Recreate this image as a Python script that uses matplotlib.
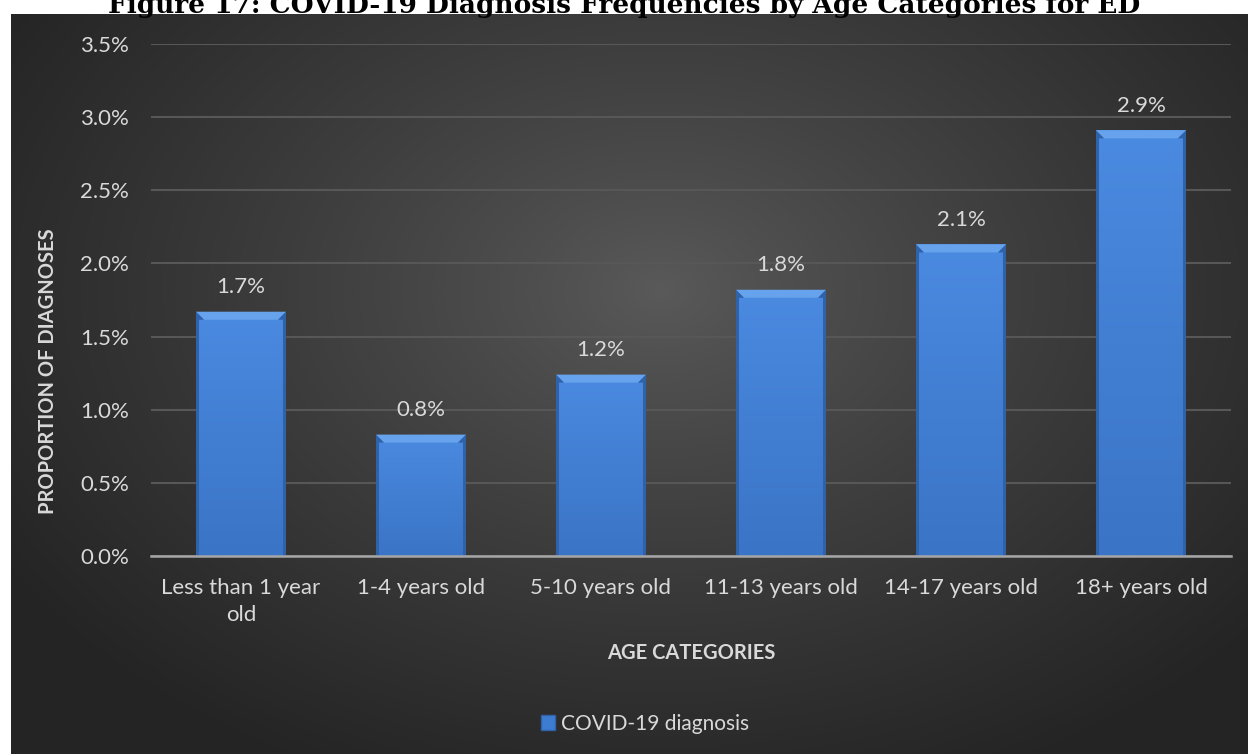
import numpy as np
import matplotlib.pyplot as plt
from matplotlib.patches import Polygon, Rectangle
from matplotlib.colors import LinearSegmentedColormap

# -----------------------------------------------------
# COVID-19 diagnosis share by age group (ED visits)
# -----------------------------------------------------

age_groups = ["Less than 1 year\nold", "1-4 years old", "5-10 years old",
              "11-13 years old", "14-17 years old", "18+ years old"]
covid_share = [1.67, 0.83, 1.24, 1.82, 2.13, 2.91]
y_ticks = [0.0, 0.5, 1.0, 1.5, 2.0, 2.5, 3.0, 3.5]
series_name = "COVID-19 diagnosis"
title = "Figure 17: COVID-19 Diagnosis Frequencies by Age Categories for ED"

W, H = 1248, 754
TEXT = "#d9d9d9"
FONT = ["Lato", "DejaVu Sans"]

fig = plt.figure(figsize=(W / 100, H / 100), dpi=100, facecolor="white")

# dark panel with a soft radial glow behind the chart
bg = fig.add_axes([0, 0, 1, 1], zorder=-5)
bg.set_xlim(0, W)
bg.set_ylim(H, 0)
bg.axis("off")
yy, xx = np.mgrid[14:H, 11:W]
d = np.sqrt(((xx - 660) / 780.0) ** 2 + ((yy - 290) / 540.0) ** 2)
d = np.clip(d, 0, 1) ** 0.85
glow = LinearSegmentedColormap.from_list("glow", ["#5a5a5a", "#242424"])
bg.imshow(d, cmap=glow, vmin=0, vmax=1, extent=(11, W, H, 14),
          aspect="auto", interpolation="bilinear")

fig.text(0.5, 1 - 13 / H, title, ha="center", va="baseline",
         fontsize=19, fontweight="bold", family="DejaVu Serif", color="black")

ax = fig.add_axes([151 / W, 1 - 556 / H, 1080 / W, 512 / H])
ax.patch.set_alpha(0)
x = np.arange(len(age_groups))
bars = ax.bar(x, covid_share, width=0.5, color="#3d7dd1", zorder=3,
              edgecolor="none")

# bevelled look on each bar: light top edge, darker sides
face = LinearSegmentedColormap.from_list("face", ["#4a8ae0", "#3a74c6"])
grad = np.linspace(0, 1, 100).reshape(-1, 1)
for b in bars:
    x0, w, h = b.get_x(), b.get_width(), b.get_height()
    im = ax.imshow(grad, cmap=face, extent=(x0, x0 + w, 0, h),
                   aspect="auto", zorder=3.5)
    im.set_clip_path(b)
    dx, dy = 8 / 180, 8 / 146.3
    sx = 3 / 180
    ax.add_patch(Polygon([(x0, h), (x0 + w, h), (x0 + w - dx, h - dy),
                          (x0 + dx, h - dy)], closed=True,
                         facecolor="#67a3ec", edgecolor="none", zorder=4))
    ax.add_patch(Polygon([(x0, 0), (x0, h), (x0 + dx, h - dy),
                          (x0 + sx, h - dy), (x0 + sx, 0)], closed=True,
                         facecolor="#2f62a8", edgecolor="none", zorder=4))
    ax.add_patch(Polygon([(x0 + w, 0), (x0 + w, h), (x0 + w - dx, h - dy),
                          (x0 + w - sx, h - dy), (x0 + w - sx, 0)],
                         closed=True, facecolor="#2f62a8", edgecolor="none",
                         zorder=4))
    ax.annotate(f"{h:.1f}%", (b.get_x() + w / 2, h), xytext=(0, 13.5),
                textcoords="offset points", ha="center", va="baseline",
                fontsize=16, color=TEXT, family=FONT)

ax.set_xlim(-0.5, len(age_groups) - 0.5)
ax.set_ylim(0, 3.5)
ax.set_yticks(y_ticks)
ax.set_yticklabels([f"{t:.1f}%" for t in y_ticks])
ax.set_xticks(x)
ax.set_xticklabels(age_groups)
ax.yaxis.grid(True, color="#575757", linewidth=1.5, zorder=0)
ax.set_axisbelow(True)
for s in ["top", "right", "left"]:
    ax.spines[s].set_visible(False)
ax.spines["bottom"].set_color("#a6a6a6")
ax.spines["bottom"].set_linewidth(1.8)
ax.spines["bottom"].set_zorder(5)
ax.tick_params(length=0, colors=TEXT, labelsize=16)
ax.tick_params(axis="x", pad=16)
ax.tick_params(axis="y", pad=16)
for lbl in ax.get_xticklabels() + ax.get_yticklabels():
    lbl.set_family(FONT)
    lbl.set_linespacing(1.45)

ax.set_xlabel("AGE CATEGORIES", fontsize=14.5, fontweight="bold",
              color=TEXT, family=FONT, va="center")
ax.xaxis.set_label_coords(0.5, -(653 - 556) / 512)
ax.set_ylabel("PROPORTION OF DIAGNOSES", fontsize=14.5, fontweight="bold",
              color=TEXT, family=FONT, va="center")
ax.yaxis.set_label_coords((48 - 151) / 1080, (556 - 371) / 512)

handle = Rectangle((0, 0), 1, 1, facecolor="#3d7dd1", edgecolor="#2f62a8")
fig.legend([handle], [series_name], loc="center",
           bbox_to_anchor=(645 / W, 1 - 724 / H), frameon=False,
           handlelength=0.7, handleheight=0.7, handletextpad=0.3,
           prop={"family": FONT, "size": 15}, labelcolor=TEXT)

fig.savefig("out.png", dpi=100, facecolor="white")
